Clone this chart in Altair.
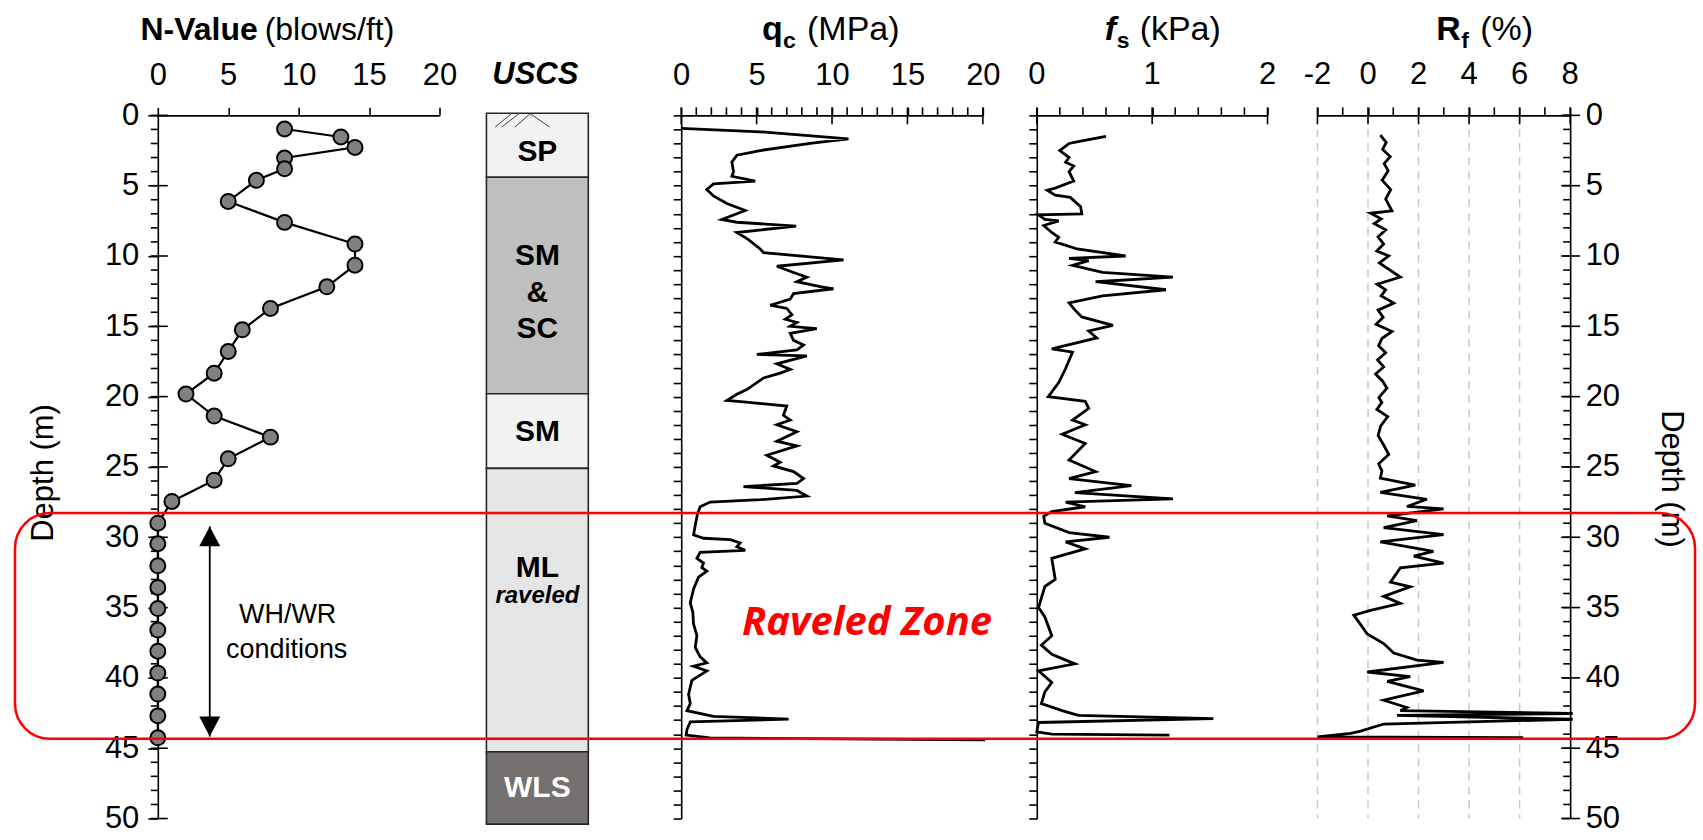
import altair as alt
import pandas as pd

FONT = "Liberation Sans"

# ---------------- data ----------------
n_depth = [0.97, 1.54, 2.28, 3.03, 3.80, 4.62, 6.12, 7.61, 9.15, 10.65, 12.19, 13.73, 15.25,
           16.79, 18.33, 19.82, 21.38, 22.88, 24.42, 25.94, 27.45, 29.00, 30.46, 32.03, 33.57,
           35.07, 36.60, 38.10, 39.66, 41.15, 42.70, 44.26]
n_value = [9, 13, 14, 9, 9, 7, 5, 9, 14, 14, 12, 8, 6, 5, 4, 2, 4, 8, 5, 4, 1,
           0, 0, 0, 0, 0, 0, 0, 0, 0, 0, 0]

qc_depth = [0.93, 1.17, 1.67, 2.0, 2.5, 2.83, 3.33, 4.0, 4.33, 4.67, 4.87, 5.27, 5.73, 6.27, 6.77,
            7.4, 7.6, 7.87, 8.33, 8.83, 9.5, 9.77, 10.27, 10.73, 11.17, 11.5, 11.83, 12.17, 12.33,
            12.67, 13.07, 13.5, 13.73, 14.17, 14.5, 14.73, 15.0, 15.17, 15.5, 16.0, 16.33, 16.67,
            17.0, 17.1, 17.67, 18.07, 18.33, 18.67, 19.5, 19.83, 20.27, 20.37, 20.67, 21.33, 21.67,
            22.0, 22.5, 23.17, 23.5, 24.17, 24.67, 24.93, 25.33, 25.83, 26.17, 26.4, 26.67, 27.07,
            27.33, 27.5, 27.83, 28.33, 29.17, 29.83, 30.07, 30.17, 30.4, 30.67, 30.93, 31.07, 31.5,
            31.83, 32.17, 32.4, 32.83, 33.67, 34.67, 35.33, 36.17, 37.0, 37.83, 38.5, 38.93, 39.17,
            39.5, 40.17, 41.17, 41.83, 42.33, 42.73, 42.93, 43.13, 43.67, 44.07, 44.27, 44.4]
qc_value = [0, 5.24, 11.09, 8.55, 5.24, 3.69, 3.36, 3.47, 3.36, 4.91, 2.14, 1.70, 2.14, 3.03, 4.24,
            2.70, 3.69, 7.62, 3.69, 4.46, 5.24, 5.46, 10.76, 6.34, 7.45, 8.33, 7.67, 9.22, 10.1,
            7.45, 7.23, 5.9, 7.0, 7.34, 6.9, 7.67, 7.23, 8.99, 7.23, 7.45, 8.11, 7.67,
            5.02, 8.33, 6.34, 7.23, 6.56, 5.46, 4.35, 3.69, 3.03, 4.13, 7.0, 6.78, 7.23,
            6.34, 7.67, 6.34, 7.67, 5.68, 6.56, 6.12, 7.45, 8.11, 7.67, 4.13, 7.67, 8.33,
            5.24, 1.92, 1.26, 1.08, 0.93, 0.82, 1.48, 3.25, 3.91, 3.69, 4.24, 1.26, 1.04,
            1.48, 1.37, 1.70, 1.15, 0.82, 0.60, 0.77, 0.82, 1.04, 0.93, 1.26, 1.70, 0.82,
            1.70, 0.71, 0.49, 0.60, 0.38, 2.14, 7.12, 0.60, 0.38, 0.33, 1.92, 20.15]

fs_depth = [1.5, 1.83, 2.0, 2.5, 3.0, 3.33, 3.6, 4.0, 4.67, 5.17, 5.33, 5.67, 5.83, 6.5, 7.0, 7.07,
            7.4, 7.5, 7.83, 8.33, 8.67, 9.0, 9.5, 10.0, 10.17, 10.33, 10.67, 11.17, 11.5, 11.83,
            12.4, 12.83, 13.33, 13.83, 14.33, 14.93, 15.33, 15.83, 16.6, 16.83, 18.0, 19.0, 20.0,
            20.33, 20.83, 21.67, 22.0, 22.67, 23.33, 24.5, 25.33, 25.83, 26.33, 26.83, 27.27, 27.5,
            27.83, 28.17, 28.5, 29.0, 29.67, 30.0, 30.33, 30.83, 31.5, 33.0, 33.5, 35.0, 35.67,
            37.0, 37.67, 38.33, 39.0, 39.5, 40.33, 41.0, 41.83, 42.33, 42.67, 42.9, 43.17, 43.83,
            44.0, 44.07]
fs_value = [0.60, 0.38, 0.28, 0.20, 0.28, 0.25, 0.32, 0.28, 0.32, 0.16, 0.09, 0.16, 0.29, 0.38,
            0.39, 0.015, 0.07, 0.19, 0.06, 0.13, 0.19, 0.16, 0.35, 0.77, 0.28, 0.45, 0.31, 0.57,
            1.18, 0.51, 1.12, 0.57, 0.28, 0.33, 0.39, 0.66, 0.45, 0.52, 0.13, 0.31, 0.25, 0.19,
            0.10, 0.42, 0.45, 0.31, 0.42, 0.22, 0.42, 0.28, 0.51, 0.28, 0.82, 0.33, 1.18, 0.25,
            0.42, 0.13, 0.06, 0.07, 0.28, 0.63, 0.25, 0.42, 0.13, 0.16, 0.07, 0.015, 0.07, 0.13,
            0.04, 0.13, 0.33, 0.015, 0.13, 0.07, 0.04, 0.22, 0.36, 1.53, 0.015, 0.0, 0.13, 1.15]

rf_depth = [1.41, 1.92, 2.42, 2.93, 3.43, 3.93, 4.61, 5.28, 5.95, 6.79, 6.96, 7.36, 7.70, 8.14,
            8.64, 9.15, 9.65, 9.99, 10.49, 11.5, 12.0, 12.41, 12.84, 13.35, 13.85, 14.36, 14.86,
            15.37, 15.87, 16.38, 16.88, 17.38, 17.89, 18.39, 18.9, 19.4, 20.07, 20.41, 20.91,
            21.42, 22.09, 22.76, 23.44, 24.11, 24.78, 25.29, 25.79, 26.29,
            26.8, 27.3, 27.81, 27.98, 28.48, 28.82, 29.32, 29.82, 30.33, 31.0, 31.34, 31.84,
            32.18, 33.19, 33.52, 34.2, 34.7, 35.2, 35.54, 36.21, 36.88, 37.56, 38.23, 38.74,
            38.9, 39.58, 39.91, 40.25, 40.92, 41.59, 42.1, 42.33, 42.53, 42.67, 42.94, 43.28,
            43.78, 43.95, 44.2, 44.25]
rf_value = [0.49, 0.72, 0.58, 0.88, 0.64, 0.80, 0.56, 0.90, 0.70, 0.95, 0.10, 0.52, 0.25, 0.70,
            0.40, 0.62, 0.35, 0.82, 0.45, 1.28, 0.36, 0.70, 0.52, 1.02, 0.40, 0.60, 0.32,
            0.95, 0.55, 0.42, 0.70, 0.38, 0.62, 0.30, 0.58, 0.75, 0.43, 0.55, 0.35,
            0.78, 0.50, 0.40, 0.62, 0.82, 0.42, 0.55, 0.49, 1.87,
            0.49, 2.33, 1.54, 2.99, 0.76, 1.94, 0.62, 2.99, 0.49, 2.59, 1.81, 2.99,
            1.28, 0.89, 1.67, 0.62, 1.28, 0.10, -0.56, -0.29, -0.03, 0.62, 1.02, 1.94,
            2.99, -0.03, 1.67, 0.76, 2.2, 0.62, 1.54, 1.28, 8.1, 1.15, 8.1, 0.62,
            -0.29, -0.69, -2.0, 6.14]

uscs_top = [-0.15, 4.4, 19.8, 25.1, 45.25]
uscs_bottom = [4.4, 19.8, 25.1, 45.25, 50.4]
uscs_fill = ["#f2f2f2", "#bfbfbf", "#f2f2f2", "#e5e5e5", "#767171"]
uscs_name = ["SP", "SM", "&", "SC", "SM", "ML", "WLS"]
uscs_name_depth = [2.6, 10.0, 12.6, 15.2, 22.5, 32.2, 47.8]
uscs_name_color = ["black", "black", "black", "black", "black", "black", "white"]
raveled_depth = 34.2

hatch_x = [0.086, 0.15, 0.28, 0.43]
hatch_x2 = [0.245, 0.32, 0.43, 0.62]
hatch_y = [0.83, 0.83, 0.83, -0.12]
hatch_y2 = [-0.12, -0.12, -0.12, 0.83]

zone_top, zone_bottom = 28.28, 44.33
arrow_top, arrow_bottom = 29.23, 44.17
wh_depth, cond_depth = 35.5, 38.0
raveled_zone_depth = 36.1

depth_ticks = list(range(0, 51))
depth_major = list(range(0, 51, 5))
n_ticks = [0, 5, 10, 15, 20]
qc_ticks = list(range(0, 21))
qc_major = [0, 5, 10, 15, 20]
fs_ticks = [round(0.2 * i, 1) for i in range(11)]
fs_major = [0, 1, 2]
fs_major_text = ["0", "1", "2"]
rf_ticks = list(range(-2, 9))
rf_major = [-2, 0, 2, 4, 6, 8]
rf_major_text = ["-2", "0", "2", "4", "6", "8"]
rf_grid = [-2, 0, 2, 4, 6]

# ---------------- layout ----------------
H = 704
W_N, W_U, W_Q, W_F, W_R = 282, 102, 302, 231, 253
TITLE_Y = -75
TSIZE = 32
PSIZE = 34
LSIZE = 31
XPAD = 16          # label padding of the top axes
XTICK = 8
LW = 2.8           # CPT line width

Y = alt.Scale(domain=[0, 50], reverse=True, nice=False, zero=False)
one = pd.DataFrame({"k": [0]})


def top_axis(values, labels=True, fmt=None):
    kw = dict(orient="top", values=values, tickSize=XTICK, labelPadding=XPAD, title=None,
              grid=False, labelFlush=False, labelOverlap=False, labels=labels)
    if fmt:
        kw["format"] = fmt
    return alt.Axis(**kw)


NO_AX = None
N_XAX = top_axis(n_ticks)
N_YAX = alt.Axis(orient="left", values=depth_major, tickSize=10, labelPadding=9, title=None,
                 grid=False, labelOverlap=False, labelFlush=False)
Q_XAX = top_axis(qc_major)
F_XAX = top_axis(fs_major, labels=False)
R_XAX = top_axis(rf_major, labels=False)
SIDE_YAX = alt.Axis(orient="left", values=depth_ticks, labels=False, tickSize=8, title=None,
                    grid=False)
R_YAX = alt.Axis(orient="right", values=depth_major, tickSize=0, labelPadding=15, title=None,
                 grid=False, labelOverlap=False, labelFlush=False)


def txt(text, x, y, yaxis=None, size=TSIZE, weight="normal", style="normal", align="left",
        baseline="alphabetic", color="black", font=FONT, angle=0):
    if isinstance(y, dict):
        yenc = alt.Y(datum=y["d"], scale=Y, axis=yaxis)
    else:
        yenc = alt.value(y)
    return alt.Chart(one).mark_text(
        text=text, fontSize=size, fontWeight=weight, fontStyle=style, align=align,
        baseline=baseline, color=color, font=font, angle=angle
    ).encode(x=alt.value(x), y=yenc)


def x_rules(vals, scale, y0, y1, axis):
    return alt.Chart(pd.DataFrame({"v": vals})).mark_rule(color="black", strokeWidth=1.6).encode(
        x=alt.X("v:Q", scale=scale, axis=axis), y=alt.value(y0), y2=alt.value(y1))


def y_rules(vals, x0, x1, axis):
    return alt.Chart(pd.DataFrame({"d": vals})).mark_rule(color="black", strokeWidth=1.6).encode(
        y=alt.Y("d:Q", scale=Y, axis=axis), x=alt.value(x0), x2=alt.value(x1))


def x_labels(vals, texts, scale, axis):
    return alt.Chart(pd.DataFrame({"v": vals, "t": texts})).mark_text(
        font=FONT, fontSize=LSIZE, baseline="bottom", align="center", color="black").encode(
        x=alt.X("v:Q", scale=scale, axis=axis), y=alt.value(-(XTICK + XPAD)), text="t:N")


# ---- N-value panel ----
ndf = pd.DataFrame({"depth": n_depth, "N": n_value})
xN = alt.Scale(domain=[0, 20], nice=False, zero=False)
n_base = alt.Chart(ndf).encode(
    x=alt.X("N:Q", scale=xN, axis=N_XAX),
    y=alt.Y("depth:Q", scale=Y, axis=N_YAX),
    order="depth:Q")
n_line = n_base.mark_line(color="black", strokeWidth=2.2)
n_pts = n_base.mark_point(shape="circle", size=225, filled=True, fill="#808080",
                          stroke="black", strokeWidth=2, opacity=1)
bound = alt.Chart(one).mark_rect(fill="white", opacity=0).encode(
    x=alt.value(-157), x2=alt.value(1546), y=alt.value(-114), y2=alt.value(726))
arrow_line = alt.Chart(one).mark_rule(color="black", strokeWidth=1.8).encode(
    x=alt.value(52), y=alt.Y(datum=arrow_top, scale=Y, axis=N_YAX), y2=alt.datum(arrow_bottom))
arrow_up = alt.Chart(one).mark_point(shape="M0,0L-1,1.9L1,1.9Z", size=441, filled=True,
                                     color="black", opacity=1).encode(
    x=alt.value(52), y=alt.Y(datum=arrow_top, scale=Y, axis=N_YAX))
arrow_dn = alt.Chart(one).mark_point(shape="M0,0L-1,-1.9L1,-1.9Z", size=441, filled=True,
                                     color="black", opacity=1).encode(
    x=alt.value(52), y=alt.Y(datum=arrow_bottom, scale=Y, axis=N_YAX))

panel_n = alt.layer(
    bound, y_rules(depth_ticks, -7, 0, N_YAX), y_rules(depth_major, 0, 10, N_YAX), n_line, n_pts,
    arrow_line, arrow_up, arrow_dn,
    txt("WH/WR", 130, {"d": wh_depth}, N_YAX, size=27, align="center", baseline="middle"),
    txt("conditions", 129, {"d": cond_depth}, N_YAX, size=27, align="center", baseline="middle"),
    txt("N-Value", 100, TITLE_Y, weight="bold", align="right"),
    txt("(blows/ft)", 107, TITLE_Y),
    txt("Depth (m)", -114, 358, size=31, angle=270, align="center", baseline="middle"),
).properties(width=W_N, height=H)

# ---- USCS panel ----
udf = pd.DataFrame({"top": uscs_top, "bottom": uscs_bottom, "fill": uscs_fill})
u_rect = alt.Chart(udf).mark_rect(stroke="#262626", strokeWidth=1.6).encode(
    x=alt.value(0), x2=alt.value(W_U),
    y=alt.Y("top:Q", scale=Y, axis=NO_AX), y2="bottom:Q",
    fill=alt.Fill("fill:N", scale=None))
ulab = pd.DataFrame({"t": uscs_name, "d": uscs_name_depth, "c": uscs_name_color})
u_text = alt.Chart(ulab).mark_text(font=FONT, fontSize=30, fontWeight="bold", baseline="middle",
                                   align="center").encode(
    x=alt.value(W_U / 2), y=alt.Y("d:Q", scale=Y, axis=NO_AX), text="t:N",
    color=alt.Color("c:N", scale=None))
hdf = pd.DataFrame({"x": hatch_x, "x2": hatch_x2, "y": hatch_y, "y2": hatch_y2})
u_hatch = alt.Chart(hdf).mark_rule(color="#404040", strokeWidth=1).encode(
    x=alt.X("x:Q", scale=alt.Scale(domain=[0, 1], nice=False), axis=NO_AX), x2="x2:Q",
    y=alt.Y("y:Q", scale=Y, axis=NO_AX), y2="y2:Q")
panel_u = alt.layer(
    u_rect, u_hatch, u_text,
    txt("raveled", W_U / 2, {"d": raveled_depth}, NO_AX, size=24, weight="bold", style="italic",
        align="center", baseline="middle"),
    txt("USCS", 49, -40, size=31, weight="bold", style="italic", align="center", baseline="middle"),
).properties(width=W_U, height=H)

# ---- qc panel ----
qdf = pd.DataFrame({"depth": qc_depth, "qc": qc_value, "i": list(range(len(qc_depth)))})
xQ = alt.Scale(domain=[0, 20], nice=False, zero=False)
q_line = alt.Chart(qdf).mark_line(color="black", strokeWidth=LW).encode(
    x=alt.X("qc:Q", scale=xQ, axis=Q_XAX),
    y=alt.Y("depth:Q", scale=Y, axis=SIDE_YAX),
    order="i:Q")
panel_q = alt.layer(
    x_rules(qc_ticks, xQ, -XTICK, 0, Q_XAX), x_rules(qc_major, xQ, 0, 9, Q_XAX), q_line,
    txt("q", 81, TITLE_Y, size=PSIZE, weight="bold"),
    txt("c", 102, TITLE_Y + 8, size=23, weight="bold"),
    txt("(MPa)", 126, TITLE_Y, size=PSIZE),
    txt("Raveled Zone", 186, {"d": raveled_zone_depth}, SIDE_YAX, size=40, weight="bold",
        style="italic", align="center", baseline="middle", color="#ff0000", font="Open Sans"),
).properties(width=W_Q, height=H)

# ---- fs panel ----
fdf = pd.DataFrame({"depth": fs_depth, "fs": fs_value, "i": list(range(len(fs_depth)))})
xF = alt.Scale(domain=[0, 2], nice=False, zero=False)
f_line = alt.Chart(fdf).mark_line(color="black", strokeWidth=LW).encode(
    x=alt.X("fs:Q", scale=xF, axis=F_XAX),
    y=alt.Y("depth:Q", scale=Y, axis=SIDE_YAX),
    order="i:Q")
panel_f = alt.layer(
    x_rules(fs_ticks, xF, -XTICK, 0, F_XAX), x_rules(fs_major, xF, 0, 9, F_XAX), f_line,
    x_labels(fs_major, fs_major_text, xF, F_XAX),
    txt("f", 68, TITLE_Y, size=PSIZE, weight="bold", style="italic"),
    txt("s", 80, TITLE_Y + 8, size=23, weight="bold"),
    txt("(kPa)", 103, TITLE_Y, size=PSIZE),
).properties(width=W_F, height=H)

# ---- Rf panel ----
rdf = pd.DataFrame({"depth": rf_depth, "rf": rf_value, "i": list(range(len(rf_depth)))})
xR = alt.Scale(domain=[-2, 8], nice=False, zero=False)
r_grid = alt.Chart(pd.DataFrame({"v": rf_grid})).mark_rule(
    color="#c8c8c8", strokeWidth=1.5, strokeDash=[8, 6]).encode(
    x=alt.X("v:Q", scale=xR, axis=R_XAX), y=alt.value(0), y2=alt.value(H))
r_line = alt.Chart(rdf).mark_line(color="black", strokeWidth=LW).encode(
    x=alt.X("rf:Q", scale=xR, axis=R_XAX),
    y=alt.Y("depth:Q", scale=Y, axis=R_YAX),
    order="i:Q")
red_box = alt.Chart(one).mark_rect(fill="white", fillOpacity=0, stroke="#ff0000", strokeWidth=2.5,
                                   cornerRadius=35).encode(
    x=alt.value(-1304), x2=alt.value(378),
    y=alt.Y(datum=zone_top, scale=Y, axis=R_YAX), y2=alt.datum(zone_bottom))
panel_r = alt.layer(
    r_grid, x_rules(rf_ticks, xR, -XTICK, 0, R_XAX), x_rules(rf_major, xR, 0, 9, R_XAX),
    y_rules(depth_ticks, W_R - 7, W_R, R_YAX), y_rules(depth_major, W_R - 9, W_R + 10, R_YAX),
    r_line, x_labels(rf_major, rf_major_text, xR, R_XAX),
    txt("R", 119, TITLE_Y, size=PSIZE, weight="bold"),
    txt("f", 144, TITLE_Y + 8, size=23, weight="bold"),
    txt("(%)", 163, TITLE_Y, size=PSIZE),
    txt("Depth (m)", 354, 364, size=31, angle=90, align="center", baseline="middle"),
    red_box,
).properties(width=W_R, height=H)


def spacer(w):
    return alt.Chart(one).mark_point(opacity=0).encode(
        x=alt.value(0), y=alt.value(0)).properties(width=w, height=H)


chart = alt.hconcat(
    panel_n, spacer(47), panel_u, spacer(93), panel_q, spacer(54), panel_f, spacer(50), panel_r,
    spacing=0, bounds="flush"
).properties(padding=0, background="white").configure_view(stroke="transparent").configure_axis(
    labelFont=FONT, labelFontSize=LSIZE, labelColor="black", domainColor="black", tickColor="black",
    domainWidth=1.6, tickWidth=1.6)

chart.save("out.html", embed_options={"renderer": "svg", "actions": False})
